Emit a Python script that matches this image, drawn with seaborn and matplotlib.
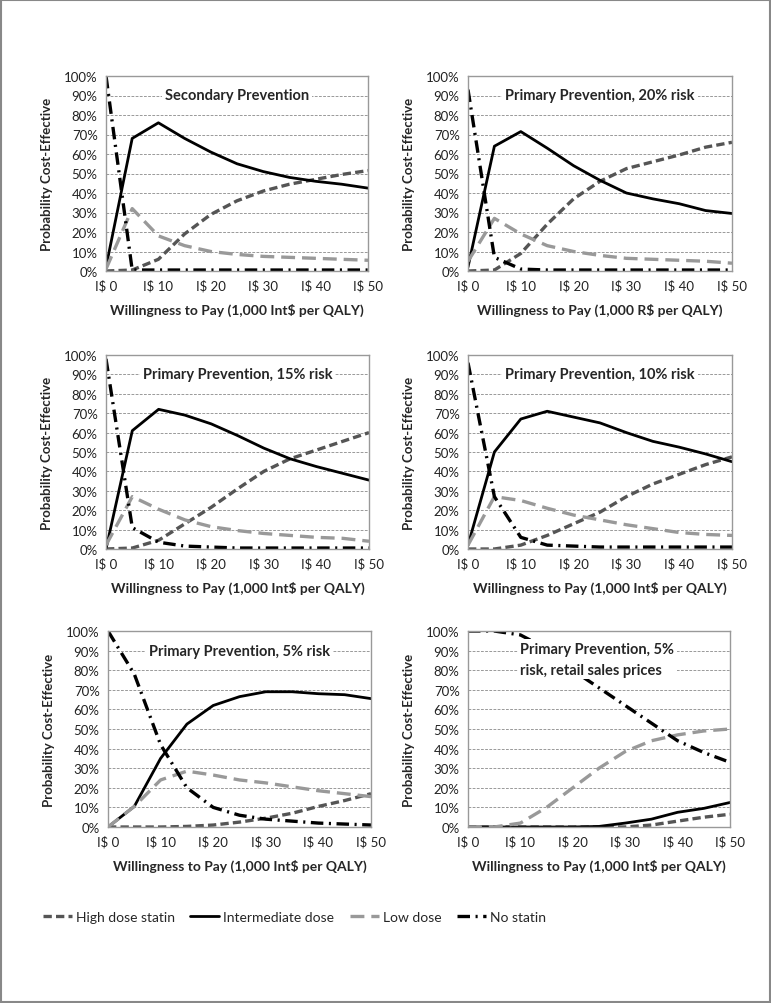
#!/usr/bin/env python3
"""
Cost-effectiveness acceptability curves for statin strategies
"""

import matplotlib
matplotlib.use("Agg")
import matplotlib.pyplot as plt
import matplotlib.patches as mpatches
import seaborn as sns

# willingness to pay (1,000 per QALY)
wtp = [0, 5, 10, 15, 20, 25, 30, 35, 40, 45, 50]
x_ticks = [0, 10, 20, 30, 40, 50]
x_tick_labels = ["I$ 0", "I$ 10", "I$ 20", "I$ 30", "I$ 40", "I$ 50"]
y_ticks = [0, 10, 20, 30, 40, 50, 60, 70, 80, 90, 100]
series_names = ["High dose statin", "Intermediate dose", "Low dose", "No statin"]

# Secondary prevention
sec_high = [0, 0.5, 6, 19, 29, 36, 41, 44.5, 47, 49.5, 51.5]
sec_int = [2, 68, 76, 68, 61, 55, 51, 48, 46, 44.5, 42.5]
sec_low = [1, 32, 18, 13, 10, 8.5, 7.5, 7, 6.5, 6, 5.5]
sec_none = [100, 0.5, 0.5, 0.5, 0.5, 0.5, 0.5, 0.5, 0.5, 0.5, 0.5]

# Primary prevention, 20% risk
p20_high = [0, 0.5, 9, 24, 37, 46, 52.5, 56, 59.5, 63.5, 66]
p20_int = [2, 64, 71.5, 63, 54, 46.5, 40, 37, 34.5, 31, 29.5]
p20_low = [5, 27, 19, 13, 10, 8, 6.5, 6, 5.5, 5, 4]
p20_none = [93, 7, 1, 0.5, 0.5, 0.5, 0.5, 0.5, 0.5, 0.5, 0.5]

# Primary prevention, 15% risk
p15_high = [0, 0.5, 4.5, 13, 21.5, 31, 40, 46.5, 51, 55.5, 60]
p15_int = [0, 61, 72, 69, 64.5, 58.5, 52, 46.5, 42.5, 39, 35.5]
p15_low = [2, 27, 20.5, 15, 11.5, 9.5, 8, 7, 6, 5.5, 4]
p15_none = [98, 11, 3.5, 1.5, 1, 0.5, 0.5, 0.5, 0.5, 0.5, 0.5]

# Primary prevention, 10% risk
p10_high = [0, 0, 2, 7, 13, 19, 27, 33.5, 38.5, 43.5, 47.5]
p10_int = [2, 50, 67, 71, 68, 65, 60, 55.5, 52.5, 49, 45]
p10_low = [2, 27, 25, 21, 17.5, 15, 12.5, 10.5, 8.5, 7.5, 7]
p10_none = [96, 27, 6, 2, 1.5, 1, 1, 1, 1, 1, 1]

# Primary prevention, 5% risk
p5_high = [0, 0, 0, 0.3, 1, 2.5, 4.5, 7, 10.5, 13.5, 17]
p5_int = [0, 10.5, 35, 52.5, 62, 66.5, 69, 69, 68, 67.5, 65.5]
p5_low = [0, 10.5, 24, 28.5, 26.5, 24, 22.5, 20.5, 18.5, 17, 15.5]
p5_none = [100, 78, 42, 20, 10, 6, 4, 3, 2, 1.5, 1]

# Primary prevention, 5% risk, retail sales prices
ret_high = [0, 0, 0, 0, 0, 0, 0, 1, 3, 5, 6.5]
ret_int = [0, 0, 0, 0, 0, 0.3, 2, 4, 7.5, 9.5, 12.5]
ret_low = [0, 0, 2, 10, 20, 30, 38.5, 44, 47, 49, 50]
ret_none = [100, 100, 98, 91, 80, 71, 62, 53, 44, 38, 33]

sns.set_style("white")
plt.rcParams["font.family"] = ["Lato", "DejaVu Sans"]
plt.rcParams["lines.scale_dashes"] = False

line_styles = {
    "High dose statin": dict(color="#555555", linestyle=(0, (6, 3)), linewidth=2.4),
    "Intermediate dose": dict(color="black", linestyle="-", linewidth=2.0),
    "Low dose": dict(color="#999999", linestyle=(0, (10, 5)), linewidth=2.4),
    "No statin": dict(color="black", linestyle=(0, (9, 4, 1.5, 4)), linewidth=2.4),
}

panels = [
    ("Secondary Prevention", [sec_high, sec_int, sec_low, sec_none], "Int$",
     [106, 77, 368, 272], dict(x=0.5, ha="center")),
    ("Primary Prevention, 20% risk", [p20_high, p20_int, p20_low, p20_none], "R$",
     [468, 77, 732, 272], dict(x=0.5, ha="center")),
    ("Primary Prevention, 15% risk", [p15_high, p15_int, p15_low, p15_none], "Int$",
     [106, 356, 369, 550], dict(x=0.5, ha="center")),
    ("Primary Prevention, 10% risk", [p10_high, p10_int, p10_low, p10_none], "Int$",
     [468, 356, 732, 550], dict(x=0.5, ha="center")),
    ("Primary Prevention, 5% risk", [p5_high, p5_int, p5_low, p5_none], "Int$",
     [108, 632, 371, 828], dict(x=0.5, ha="center")),
    ("Primary Prevention, 5%\nrisk, retail sales prices",
     [ret_high, ret_int, ret_low, ret_none], "Int$",
     [468, 632, 730, 828], dict(x=0.2, ha="left")),
]

W, H = 771, 1004
fig = plt.figure(figsize=(W / 100, H / 100), dpi=100)

for title, series, currency, (x0, y0, x1, y1), tpos in panels:
    ax = fig.add_axes([x0 / W, 1 - y1 / H, (x1 - x0) / W, (y1 - y0) / H])
    for name, vals in zip(series_names, series):
        sns.lineplot(x=wtp, y=vals, ax=ax, **line_styles[name])
    ax.set_xlim(0, 50)
    ax.set_ylim(0, 100)
    ax.set_xticks(x_ticks)
    ax.set_xticklabels(x_tick_labels, fontsize=9.5, color="#222222")
    ax.set_yticks(y_ticks)
    ax.set_yticklabels([f"{v}%" for v in y_ticks], fontsize=9.5, color="#222222")
    ax.tick_params(length=0, pad=6)
    ax.yaxis.grid(True, color="#999999", linestyle=(0, (2, 1)), linewidth=0.7)
    ax.set_axisbelow(True)
    for sp in ax.spines.values():
        sp.set_color("#999999")
        sp.set_linewidth(1.0)
    ax.set_xlabel(f"Willingness to Pay (1,000 {currency} per QALY)",
                  fontsize=10, fontweight="bold", labelpad=8)
    ax.set_ylabel("Probability Cost-Effective", fontsize=9.5, fontweight="bold",
                  labelpad=8)
    y_title = 0.9 if "\n" not in title else 0.855
    ax.text(tpos["x"], y_title, title, transform=ax.transAxes, ha=tpos["ha"],
            va="center", fontsize=10.5, fontweight="bold", zorder=10,
            linespacing=1.6,
            bbox=dict(facecolor="white", edgecolor="none", pad=2))

# legend along the bottom
handles = [plt.Line2D([], [], **line_styles[n]) for n in series_names]
fig.legend(handles, series_names, loc="center left", ncol=4,
           bbox_to_anchor=(30 / W, 1 - 918 / H), frameon=False, fontsize=10,
           handlelength=2.1, handletextpad=0.3, columnspacing=1.1)

# thin grey frame round the whole figure
fig.patches.append(mpatches.Rectangle((0.001, 0.001), 0.998, 0.998,
                                      transform=fig.transFigure, fill=False,
                                      edgecolor="#888888", linewidth=1.5))

fig.savefig("out.png", dpi=100)
